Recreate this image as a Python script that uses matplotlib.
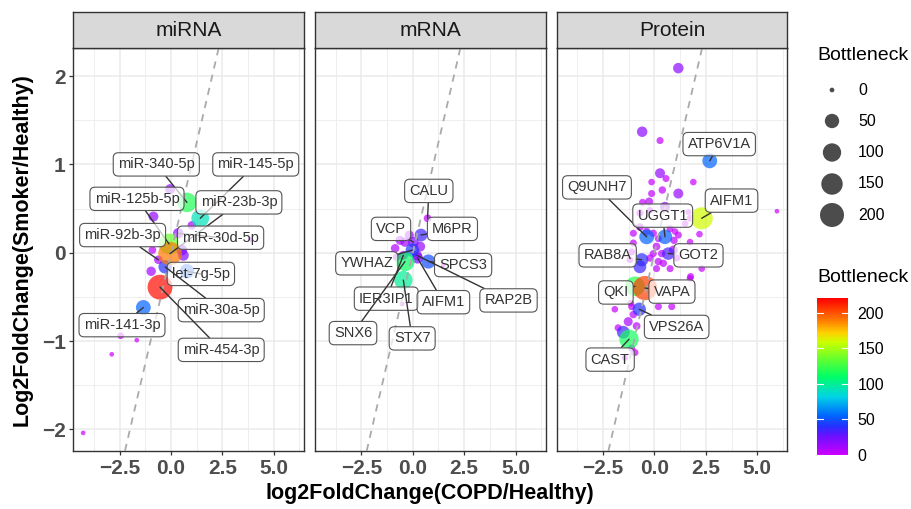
import numpy as np
import matplotlib
matplotlib.use("Agg")
import matplotlib.pyplot as plt
from matplotlib.colors import LinearSegmentedColormap, Normalize
from matplotlib.cm import ScalarMappable

plt.rcParams["font.family"] = ["Liberation Sans", "DejaVu Sans"]

W, H = 912, 509

# ── data ─────────────────────────────────────────────────────────────
PANELS = ["miRNA", "mRNA", "Protein"]

mirna_x = [-4.28, -2.89, -2.45, -1.67, -1.35, -0.54, -0.05, -0.10, 0.77, 1.42,
           0.77, -0.29, 0.52, 0.35, -0.05, -0.86, 1.01, -0.91, -0.62, -0.97,
           3.85, 0.60]
mirna_y = [-2.04, -1.15, -0.94, -0.99, -0.62, -0.39, -0.01, 0.10, 0.57, 0.39,
           -0.21, -0.16, 0.03, 0.22, 0.72, 0.41, 0.31, 0.03, -0.08, -0.21,
           0.15, -0.03]
mirna_b = [0, 0, 2, 0, 55, 218, 190, 135, 118, 92,
           52, 40, 20, 18, 15, 15, 8, 5, 8, 12,
           0, 20]
mirna_labels = ["miR-340-5p", "miR-145-5p", "miR-125b-5p", "miR-23b-3p", "miR-92b-3p",
                "miR-30d-5p", "let-7g-5p", "miR-30a-5p", "miR-141-3p", "miR-454-3p"]
mirna_label_idx = [8, 9, 7, 6, 18, 13, 10, 11, 4, 5]

mrna_x = [0.72, 0.40, -0.02, 0.76, 1.49, -0.38, -0.46, -0.86, -0.62, 0.03,
          -0.46, 0.20, -0.78, 0.36, -0.52, 0.23, -0.38, -0.17]
mrna_y = [0.39, 0.20, 0.03, -0.10, -0.14, -0.10, -0.31, 0.05, 0.14, 0.12,
          -0.03, -0.03, -0.05, 0.07, -0.58, -0.06, 0.12, 0.20]
mrna_b = [5, 35, 42, 48, 0, 112, 100, 8, 10, 20,
          10, 15, 5, 15, 0, 22, 12, 10]
mrna_labels = ["CALU", "VCP", "M6PR", "YWHAZ", "SPCS3",
               "IER3IP1", "AIFM1", "RAP2B", "SNX6", "STX7"]
mrna_label_idx = [0, 9, 1, 2, 3, 10, 15, 11, 5, 6]

protein_x = [2.69, -0.38, 2.30, 0.51, -0.62, 0.67, -0.95, -0.46, -0.74, -1.24,
             1.16, -0.60, 0.27, 0.27, 1.16, 5.96, -0.71, -1.52, 0.51, 0.92,
             -1.28,
             1.89, 0.56, -0.14, 0.38, -0.14, -0.26, -0.58, -0.71, -0.22, 1.65,
             1.49, 1.73, -1.03, -0.38, -0.06, 0.19, 1.00, 1.16, 1.73, 2.19,
             0.76, 0.95, -1.03, 0.10, 0.35, -0.06, 1.08, 0.19, -1.20, -0.22,
             0.76, 2.30, 0.10, 1.73, 0.43, -1.11, -0.71, -1.93, 0.19, 0.84,
             -1.11, -1.03, -0.87, -1.77, -0.95, -1.11, -1.44, -1.15, 1.76]
protein_y = [1.04, 0.18, 0.39, 0.18, -0.08, -0.01, -0.38, -0.40, -0.64, -0.98,
             2.09, 1.37, 1.27, 0.90, 0.67, 0.47, -0.16, -0.90, 0.52, 0.03,
             -0.78,
             0.80, 0.84, 0.80, 0.71, 0.67, 0.58, 0.57, 0.45, 0.48, 0.46,
             0.33, 0.39, 0.22, 0.24, 0.22, 0.16, 0.24, 0.20, 0.12, 0.21,
             0.27, 0.14, 0.11, 0.07, -0.01, -0.01, -0.06, -0.10, -0.08, -0.06,
             -0.18, -0.18, -0.18, -0.29, -0.12, 0.01, 0.29, -0.64, -0.61, -0.61,
             -0.61, -0.70, -0.83, -0.85, -1.13, -1.08, -1.19, -0.57, -0.27]
protein_b = [55, 55, 160, 52, 38, 33, 120, 205, 40, 115,
             18, 18, 3, 15, 15, 0, 35, 35, 15, 10,
             10,
             2, 3, 2, 4, 3, 6, 3, 4, 2, 1,
             2, 2, 3, 5, 4, 3, 2, 3, 2, 2,
             3, 4, 3, 5, 4, 3, 3, 4, 2, 4,
             3, 2, 3, 2, 4, 3, 5, 2, 3, 3,
             3, 4, 5, 3, 3, 3, 1, 2, 3]
protein_labels = ["ATP6V1A", "Q9UNH7", "AIFM1", "UGGT1", "RAB8A",
                  "GOT2", "QKI", "VAPA", "VPS26A", "CAST"]
protein_label_idx = [0, 1, 2, 3, 4, 5, 6, 7, 8, 9]

# label placement (repel-style positions, data units)
LABEL_POS = {
    "miRNA": [(-0.72, 1.00), (4.12, 1.00), (-1.66, 0.61), (3.30, 0.57), (-2.36, 0.20),
              (2.41, 0.17), (1.45, -0.24), (2.44, -0.65), (-2.39, -0.82), (2.44, -1.10)],
    "mRNA": [(0.78, 0.70), (-1.06, 0.27), (1.93, 0.27), (-2.24, -0.12), (2.45, -0.14),
             (-1.29, -0.52), (1.49, -0.56), (4.66, -0.54), (-2.91, -0.91), (-0.03, -0.97)],
    "Protein": [(3.15, 1.23), (-2.80, 0.74), (3.75, 0.59), (0.40, 0.42), (-2.28, -0.03),
                (2.14, -0.03), (-1.88, -0.45), (0.85, -0.44), (1.08, -0.84), (-2.16, -1.21)],
}

DATA = {
    "miRNA": (mirna_x, mirna_y, mirna_b, mirna_labels, mirna_label_idx),
    "mRNA": (mrna_x, mrna_y, mrna_b, mrna_labels, mrna_label_idx),
    "Protein": (protein_x, protein_y, protein_b, protein_labels, protein_label_idx),
}

# ── style ────────────────────────────────────────────────────────────
BMAX = 221
cmap = LinearSegmentedColormap.from_list("rev_rainbow", [
    (0.00, "#CC00FF"), (0.12, "#6A10FF"), (0.18, "#2530FF"), (0.25, "#0066FF"),
    (0.37, "#00D2E6"), (0.50, "#00FF66"), (0.62, "#6CFF2A"), (0.72, "#CCFF00"),
    (0.78, "#FFD000"), (0.86, "#FF7A00"), (1.00, "#FF0000"),
])
norm = Normalize(0, BMAX)


def size_of(b):
    d_px = 4.7 + 20.3 * np.sqrt(np.asarray(b, float) / BMAX)
    return (d_px * 0.72) ** 2


def box(l, t, r, b):
    return [l / W, 1 - b / H, (r - l) / W, (b - t) / H]


fig = plt.figure(figsize=(W / 100, H / 100), dpi=100, facecolor="white")

PANEL_L = [73.3, 315.0, 556.7]
PANEL_W = 230.7
PANEL_T, PANEL_B = 48, 451
STRIP_T = 12.5
BORDER = "#333333"

for i, name in enumerate(PANELS):
    l = PANEL_L[i]
    ax = fig.add_axes(box(l, PANEL_T, l + PANEL_W, PANEL_B))
    sax = fig.add_axes(box(l, STRIP_T, l + PANEL_W, PANEL_T))

    sax.set_facecolor("#D9D9D9")
    sax.set_xticks([]); sax.set_yticks([])
    for sp in sax.spines.values():
        sp.set_color(BORDER); sp.set_linewidth(1.0)
    sax.text(0.5, 0.48, name, transform=sax.transAxes, ha="center", va="center",
             fontsize=15, color="#1A1A1A")

    ax.set_xlim(-4.76, 6.47)
    ax.set_ylim(-2.245, 2.318)
    ax.set_xticks([-2.5, 0, 2.5, 5.0])
    ax.set_xticks([-3.75, -1.25, 1.25, 3.75, 6.25], minor=True)
    ax.set_yticks([-2, -1, 0, 1, 2])
    ax.set_yticks([-1.5, -0.5, 0.5, 1.5], minor=True)
    ax.set_xticklabels(["\u22122.5", "0.0", "2.5", "5.0"])
    ax.set_yticklabels(["\u22122", "\u22121", "0", "1", "2"])
    ax.grid(which="major", color="#EBEBEB", lw=1.1)
    ax.grid(which="minor", color="#EBEBEB", lw=0.6)
    ax.set_axisbelow(True)
    ax.tick_params(which="minor", length=0)
    ax.tick_params(which="major", length=3, width=0.9, color=BORDER,
                   labelsize=15, labelcolor="#4D4D4D", pad=2.5)
    for lab in ax.get_xticklabels() + ax.get_yticklabels():
        lab.set_fontweight("bold")
    if i > 0:
        ax.tick_params(axis="y", left=False, labelleft=False)
    for sp in ax.spines.values():
        sp.set_color(BORDER); sp.set_linewidth(1.0)

    xs, ys, bs, labels, idx = DATA[name]
    xs, ys, bs = np.array(xs), np.array(ys), np.array(bs)
    order = np.argsort(bs, kind="stable")
    ax.scatter(xs[order], ys[order], s=size_of(bs[order]), c=bs[order], cmap=cmap,
               norm=norm, alpha=0.7, edgecolors="none", zorder=2)

    ax.axline((0, 0), slope=1, color="#AAAAAA", lw=1.3, ls=(0, (4, 3.5)), zorder=3)

    for lab, j, (lx, ly) in zip(labels, idx, LABEL_POS[name]):
        ax.annotate(lab, xy=(xs[j], ys[j]), xytext=(lx, ly), ha="center", va="center",
                    fontsize=10.5, color="#333333", zorder=5,
                    bbox=dict(boxstyle="round,pad=0.32,rounding_size=0.35",
                              fc=(1, 1, 1, 0.7), ec="#555555", lw=0.8),
                    arrowprops=dict(arrowstyle="-", color="#333333", lw=1.0,
                                    shrinkA=0, shrinkB=0))

# axis titles
fig.text(430 / W, 1 - 494 / H, "log2FoldChange(COPD/Healthy)", ha="center", va="center",
         fontsize=15.5, fontweight="bold", color="black")
fig.text(22 / W, 1 - 250 / H, "Log2FoldChange(Smoker/Healthy)", ha="center", va="center",
         rotation=90, fontsize=15.5, fontweight="bold", color="black")

# colour legend
cax = fig.add_axes(box(817, 298, 848, 455))
cb = fig.colorbar(ScalarMappable(norm=norm, cmap=cmap), cax=cax)
cb.outline.set_visible(False)
cb.set_ticks([0, 50, 100, 150, 200])
cax.tick_params(length=0, labelsize=11.5, pad=7, labelcolor="black")
for v in [0, 50, 100, 150, 200]:
    cax.plot([0, 0.2], [v, v], color="white", lw=0.8, transform=cax.get_yaxis_transform())
    cax.plot([0.8, 1], [v, v], color="white", lw=0.8, transform=cax.get_yaxis_transform())
fig.text(817 / W, 1 - 278 / H, "Bottleneck", ha="left", va="center", fontsize=14)

# size legend
lax = fig.add_axes([0, 0, 1, 1])
lax.set_xlim(0, W); lax.set_ylim(H, 0)
lax.axis("off")
fig.text(817 / W, 1 - 55 / H, "Bottleneck", ha="left", va="center", fontsize=14)
leg_vals = [0, 50, 100, 150, 200]
leg_y = [90, 121, 152.5, 184, 215]
lax.scatter([832] * 5, leg_y, s=size_of(leg_vals), color="black", alpha=0.7,
            edgecolors="none")
for v, yy in zip(leg_vals, leg_y):
    lax.text(858, yy, str(v), ha="left", va="center", fontsize=11.5)

fig.savefig("out.png", dpi=100, facecolor="white")
